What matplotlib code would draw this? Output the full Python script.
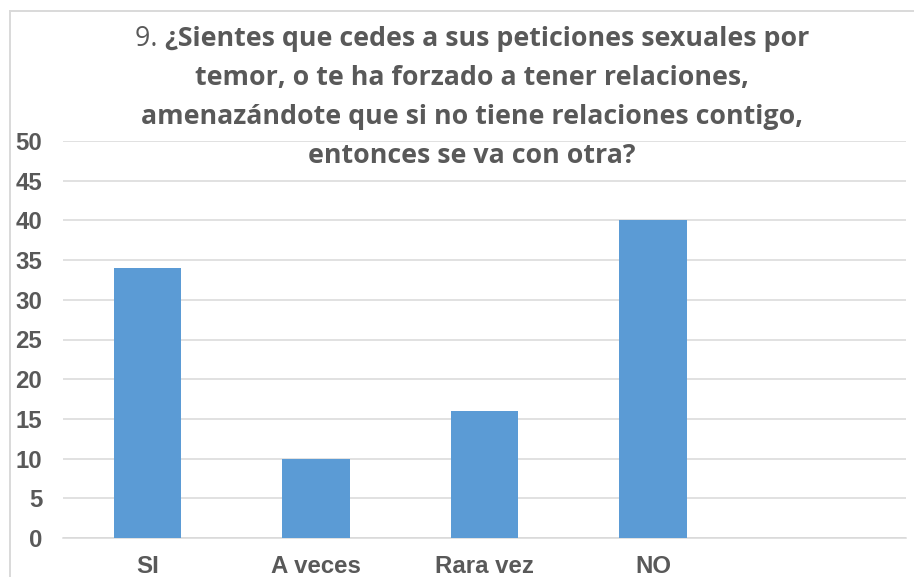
import matplotlib
matplotlib.use("Agg")
import matplotlib.pyplot as plt
from matplotlib.lines import Line2D

categories = ["SI", "A veces", "Rara vez", "NO", ""]
values = [34, 10, 16, 40, 0]
yticks = [0, 5, 10, 15, 20, 25, 30, 35, 40, 45, 50]
title_num = "9. "
title_lines = ["¿Sientes que cedes a sus peticiones sexuales por",
               "temor, o te ha forzado a tener relaciones,",
               "amenazándote que si no tiene relaciones contigo,",
               "entonces se va con otra?"]

W, H = 914, 577
fig = plt.figure(figsize=(W / 100, H / 100), dpi=100)
fig.patch.set_facecolor("white")

def fx(px):
    return px / W

def fy(py):
    return 1 - py / H

ax = fig.add_axes([fx(63), fy(538), fx(906) - fx(63), fy(141) - fy(538)])
x = list(range(len(categories)))
ax.bar(x, values, width=0.40, color="#5b9bd5", zorder=3)
ax.set_xlim(-0.5, len(categories) - 0.5)
ax.set_ylim(0, 50)
ax.set_yticks(yticks)
ax.set_xticks(x)
ax.set_xticklabels(categories)
ax.yaxis.grid(True, color="#d9d9d9", linewidth=1.1, zorder=0)
ax.set_axisbelow(True)
for s in ["top", "right", "left"]:
    ax.spines[s].set_visible(False)
ax.spines["bottom"].set_color("#d9d9d9")
ax.spines["bottom"].set_linewidth(1.1)
ax.tick_params(axis="both", length=0, colors="#595959")
ax.tick_params(axis="y", pad=15)
ax.tick_params(axis="x", pad=12)
for lab in ax.get_yticklabels() + ax.get_xticklabels():
    lab.set_fontfamily("Liberation Sans")
    lab.set_fontweight("bold")
    lab.set_fontsize(17.3)
    lab.set_color("#595959")

# chart border (light grey)
fig.add_artist(Line2D([fx(10), fx(10)], [fy(11), 0], color="#d9d9d9", linewidth=1.4))
fig.add_artist(Line2D([fx(10), 1], [fy(11), fy(11)], color="#d9d9d9", linewidth=1.4))

# title
renderer = fig.canvas.get_renderer()
fam = "Open Sans"
base = 18
t_num = fig.text(0, 0, title_num, fontsize=base, family=fam, color="#595959")
t_b = fig.text(0, 0, title_lines[0], fontsize=base, family=fam, weight="bold", color="#595959")
w_num = t_num.get_window_extent(renderer).width
w_b = t_b.get_window_extent(renderer).width
scale = 673 / (w_num + w_b)
fs = base * scale
t_num.set_fontsize(fs)
t_b.set_fontsize(fs)
w_num = t_num.get_window_extent(renderer).width
w_b = t_b.get_window_extent(renderer).width
cx = 472
left = cx - (w_num + w_b) / 2
baselines = [46, 85, 124, 163]
t_num.set_position((fx(left), fy(baselines[0])))
t_num.set_va("baseline")
t_b.set_position((fx(left + w_num), fy(baselines[0])))
t_b.set_va("baseline")
for line, b in zip(title_lines[1:], baselines[1:]):
    fig.text(fx(cx), fy(b), line, fontsize=fs, family=fam, weight="bold",
             color="#595959", ha="center", va="baseline")

fig.savefig("out.png", dpi=100, facecolor="white")
